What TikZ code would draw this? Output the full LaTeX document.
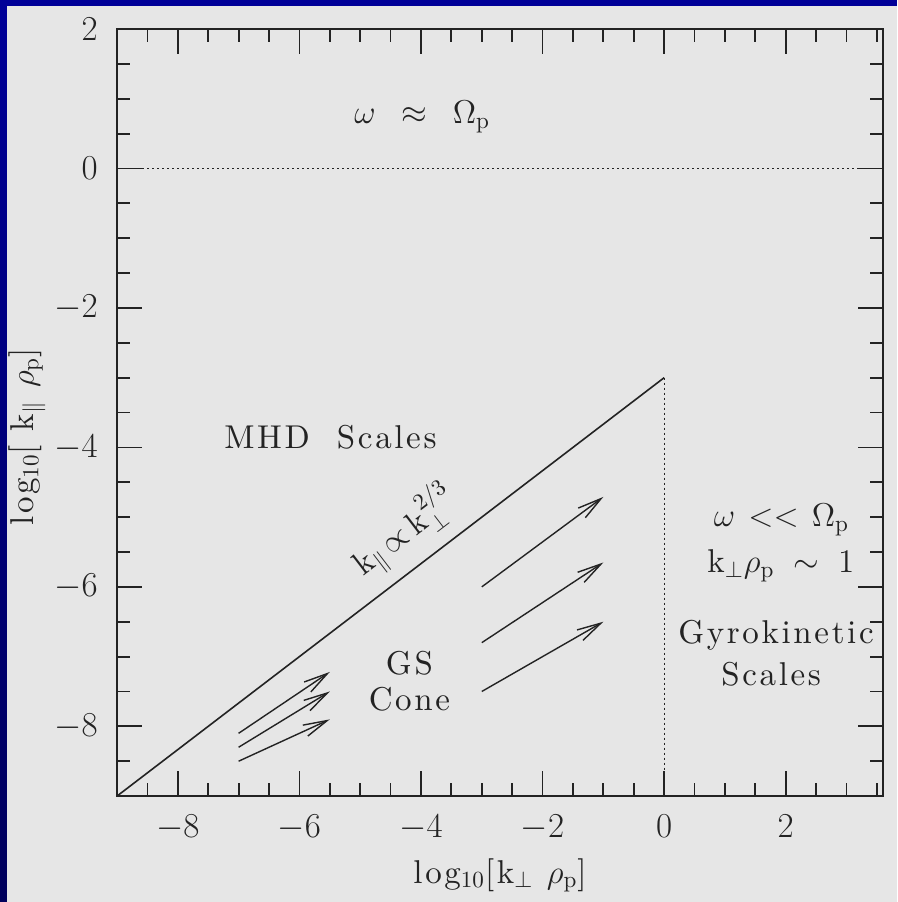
\RequirePackage{fix-cm}
\documentclass[tikz,border=0pt]{standalone}
\usepackage{amsmath, amssymb}
\usepackage{fontspec}
\setmainfont{lmroman10-regular.otf}[LetterSpace=8]
\usetikzlibrary{arrows.meta}
\definecolor{panelgrey}{RGB}{230,230,230}
\definecolor{rimblue}{RGB}{0,0,152}
\definecolor{rimnavy}{RGB}{0,0,92}
\definecolor{inkgrey}{RGB}{35,35,35}
\tikzset{
    axisline/.style={draw=inkgrey, line width=0.9pt},
    guide/.style={draw=inkgrey, line width=0.5pt, dash pattern=on 1pt off 1.5pt},
    ridge/.style={draw=inkgrey, line width=0.8pt},
    flow/.style={-{Straight Barb[length=12pt, width=6pt]}, draw=inkgrey, line width=0.7pt},
    ticknum/.style={inner sep=0pt, text=inkgrey, font=\fontsize{17.5}{20}\selectfont},
    regionlabel/.style={inner sep=0pt, anchor=base, text=inkgrey, font=\fontsize{16.5}{19}\selectfont},
}

\begin{document}
\begin{tikzpicture}[x=30.395pt, y=34.865pt]
    \fill[panelgrey] (-10.925,-10.519) rectangle (3.831,2.416);
    \fill[rimblue] (-10.925,2.33) rectangle (3.831,2.416);
    \shade[top color=rimblue, bottom color=rimnavy] (-10.925,-10.519) rectangle (-10.81,2.416);
    \useasboundingbox (-10.925,-10.519) rectangle (3.831,2.416);

    \coordinate (ll) at (-9,-9);
    \coordinate (ur) at (3.6,2);
    \coordinate (apex) at (0,-3);
    \coordinate (foot) at (0,-9);
    \coordinate (zl) at (-9,0);
    \coordinate (zr) at (3.6,0);

    \foreach \x in {-8.5,-8,...,3.5} {
        \draw[axisline] (\x,-9) -- ++(0,6.5pt);
        \draw[axisline] (\x,2) -- ++(0,-6.5pt);
    }
    \foreach \y in {-8.5,-8,...,1.5} {
        \draw[axisline] (-9,\y) -- ++(6.5pt,0);
        \draw[axisline] (3.6,\y) -- ++(-6.5pt,0);
    }
    \foreach \x [count=\i] in {-8,-6,-4,-2,0,2} {
        \draw[axisline] (\x,-9) -- ++(0,12.5pt);
        \draw[axisline] (\x,2) -- ++(0,-12.5pt);
        \node[ticknum, anchor=north] (xnum\i) at (\x,-9.27) {$\x$};
    }
    \foreach \y [count=\i] in {-8,-6,-4,-2,0} {
        \draw[axisline] (-9,\y) -- ++(12.5pt,0);
        \draw[axisline] (3.6,\y) -- ++(-12.5pt,0);
    }
    \foreach \y [count=\i] in {-8,-6,-4,-2,0,2} {
        \node[ticknum, anchor=east] (ynum\i) at (-9.31,\y) {$\y$};
    }
    \draw[axisline] (ll) rectangle (ur);

    \draw[guide] (zl) -- (zr);
    \draw[guide] (apex) -- (foot);
    \draw[ridge] (ll) -- node[regionlabel, sloped, pos=0.565, anchor=south, yshift=6pt] (law)
        {$\mathrm{k}_{\parallel}\,{\propto}\,\mathrm{k}_{\perp}^{2/3}$} (apex);

    \foreach \xs/\ys/\xe/\ye [count=\i] in {-7/-8.1/-5.5/-7.22, -7/-8.3/-5.5/-7.5, -7/-8.5/-5.5/-7.9,
                                          -3/-6/-1/-4.71, -3/-6.8/-1/-5.65, -3/-7.5/-1/-6.5} {
        \coordinate (tail\i) at (\xs,\ys);
        \coordinate (head\i) at (\xe,\ye);
        \draw[flow] (tail\i) -- (head\i);
    }

    \node[regionlabel] (cyclo) at (-3.98,0.64) {$\omega\hspace{0.5em}\approx\hspace{0.5em}\Omega_{\mathrm{p}}$};
    \node[regionlabel] (mhd) at (-5.49,-4.01) {MHD~~Scales};
    \node[regionlabel] (gs) at (-4.19,-7.26) {GS};
    \node[regionlabel] (cone) at (-4.19,-7.77) {Cone};
    \node[regionlabel] (slow) at (1.93,-5.14) {$\omega\hspace{0.4em}{<}{<}\hspace{0.4em}\Omega_{\mathrm{p}}$};
    \node[regionlabel] (kperp) at (1.92,-5.80) {$\mathrm{k}_{\perp}\rho_{\mathrm{p}}\hspace{0.3em}\sim\hspace{0.3em}1$};
    \node[regionlabel] (gyro) at (1.84,-6.805) {Gyrokinetic};
    \node[regionlabel] (scales) at (1.76,-7.41) {Scales};

    \node[regionlabel, rotate=90] (ylab) at (-10.373,-3.85) {log$_{10}$[~k$_{\parallel}$~$\rho_{\mathrm{p}}$]};
    \node[regionlabel] (xlab) at (-2.70,-10.247) {log$_{10}$[k$_{\perp}$~$\rho_{\mathrm{p}}$]};
\end{tikzpicture}
\end{document}
